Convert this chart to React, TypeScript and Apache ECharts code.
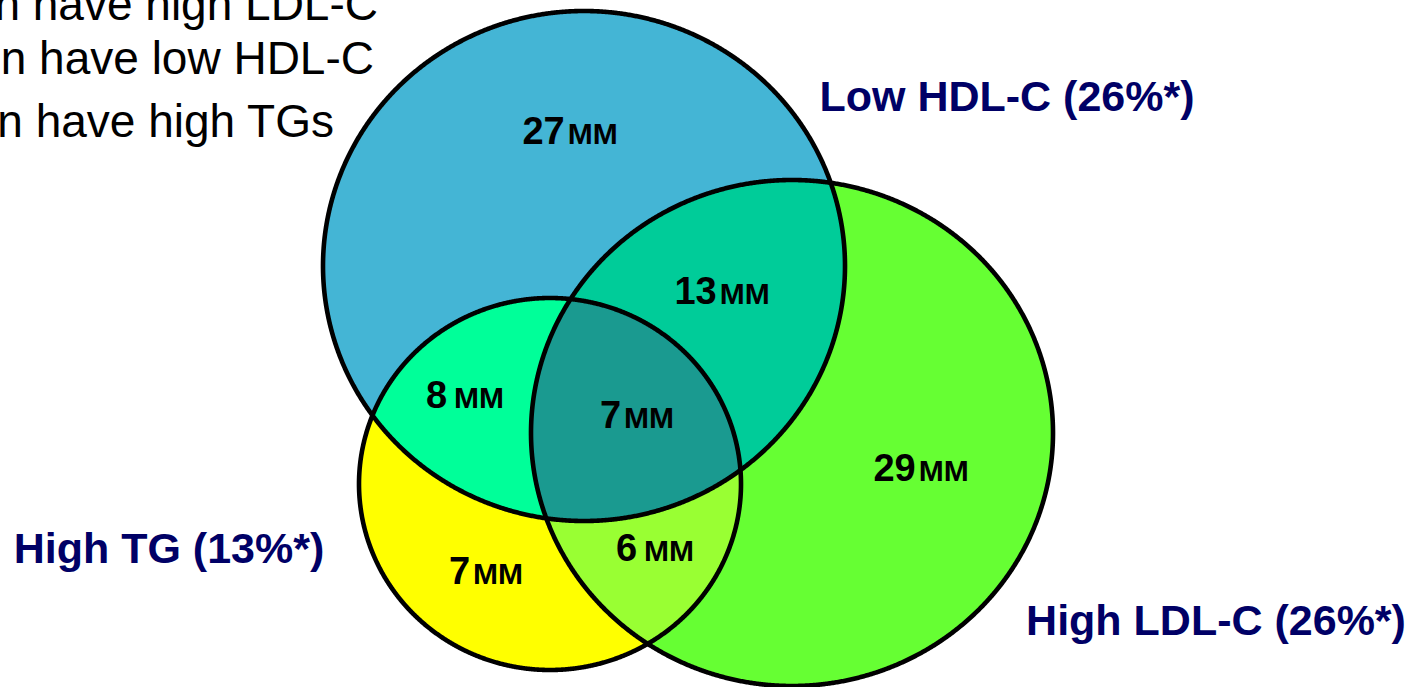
import { useEffect, useRef } from 'react';
import * as echarts from 'echarts';

// Sets shown as overlapping ellipses
const setNames = ['Low HDL-C', 'High LDL-C', 'High TG'];
const setShares = [26, 26, 13];

// Venn regions: which sets each region belongs to, and its count (millions)
const regionMembers = [[0], [1], [2], [0, 1], [0, 2], [1, 2], [0, 1, 2]];
const regionCounts = [27, 29, 7, 13, 8, 6, 7];
const unitLabel = 'MM';

// Side notes (left part runs off the page)
const noteLines = ['n have high LDL-C', 'n have low HDL-C', 'n have high TGs'];

const W = 1420;
const H = 687;

// Layout: ellipse geometry in page pixels
const shapes = [
  { cx: 584, cy: 266, rx: 261, ry: 255 },
  { cx: 792, cy: 433, rx: 261, ry: 253 },
  { cx: 550, cy: 484, rx: 191, ry: 186 },
];
const regionColors = ['#44B5D5', '#66FF33', '#FFFF00', '#00CC99', '#00FF99', '#99FF33', '#1A9A90'];
const regionAnchors = [[570, 130], [921, 467], [486, 570], [722, 290], [465, 394], [655, 547], [637, 414]];
const spacedUnit = [false, false, false, false, true, true, false];
const setLabelAnchors = [[1007, 96], [1216, 620], [169, 548]];
const noteAnchors = [[378, 4], [374, 58], [334, 121]];

const FONT = '"Liberation Sans", Arial, Helvetica, sans-serif';

function inside(e: { cx: number; cy: number; rx: number; ry: number }, p: number[]) {
  const dx = (p[0] - e.cx) / e.rx;
  const dy = (p[1] - e.cy) / e.ry;
  return dx * dx + dy * dy <= 1.0000001;
}

// Convex outline of the intersection of the given ellipses
function regionPolygon(members: number[]) {
  const pts: number[][] = [];
  const N = 1440;
  for (const m of members) {
    const e = shapes[m];
    for (let k = 0; k < N; k++) {
      const t = (2 * Math.PI * k) / N;
      const p = [e.cx + e.rx * Math.cos(t), e.cy + e.ry * Math.sin(t)];
      if (members.every((o) => o === m || inside(shapes[o], p))) pts.push(p);
    }
  }
  const mx = pts.reduce((s, p) => s + p[0], 0) / pts.length;
  const my = pts.reduce((s, p) => s + p[1], 0) / pts.length;
  pts.sort((a, b) => Math.atan2(a[1] - my, a[0] - mx) - Math.atan2(b[1] - my, b[0] - mx));
  return pts;
}

export default function App() {
  const ref = useRef<HTMLDivElement>(null);

  useEffect(() => {
    document.body.style.margin = '0';
    const chart = echarts.init(ref.current!, null, { renderer: 'svg' });

    const option: any = {
      animation: false,
      grid: { left: 0, right: 0, top: 0, bottom: 0 },
      xAxis: { type: 'value', min: 0, max: W, show: false },
      yAxis: { type: 'value', min: 0, max: H, inverse: true, show: false },
      series: [
        {
          type: 'custom',
          name: 'regions',
          coordinateSystem: 'cartesian2d',
          silent: true,
          z: 2,
          data: regionCounts.map((v, i) => [i, v]),
          renderItem: (_params: any, api: any) => {
            const i = api.value(0);
            const pts = regionPolygon(regionMembers[i]).map((p) => api.coord(p));
            return {
              type: 'polygon',
              z2: regionMembers[i].length,
              shape: { points: pts },
              style: { fill: regionColors[i], stroke: null },
            };
          },
        },
        {
          type: 'custom',
          name: 'outlines',
          coordinateSystem: 'cartesian2d',
          silent: true,
          z: 3,
          data: setShares.map((v, i) => [i, v]),
          renderItem: (_params: any, api: any) => {
            const i = api.value(0);
            const pts = regionPolygon([i]).map((p) => api.coord(p));
            const a = api.coord(setLabelAnchors[i]);
            return {
              type: 'group',
              children: [
                {
                  type: 'polygon',
                  shape: { points: pts },
                  style: { fill: 'none', stroke: '#000000', lineWidth: 4.6 },
                },
                {
                  type: 'text',
                  x: a[0],
                  y: a[1],
                  style: {
                    text: `${setNames[i]} (${api.value(1)}%*)`,
                    font: `bold 43px ${FONT}`,
                    fill: '#000066',
                    align: 'center',
                    verticalAlign: 'middle',
                  },
                },
              ],
            };
          },
        },
        {
          type: 'custom',
          name: 'counts',
          coordinateSystem: 'cartesian2d',
          silent: true,
          z: 4,
          data: regionCounts.map((v, i) => [i, v]),
          renderItem: (_params: any, api: any) => {
            const i = api.value(0);
            const a = api.coord(regionAnchors[i]);
            return {
              type: 'text',
              x: a[0],
              y: a[1],
              style: {
                text: `{n|${api.value(1)}}{${spacedUnit[i] ? 'us' : 'u'}|${unitLabel}}`,
                align: 'center',
                verticalAlign: 'middle',
                rich: {
                  n: { font: `bold 38px ${FONT}`, fill: '#000000', verticalAlign: 'bottom', lineHeight: 40 },
                  u: { font: `bold 30px ${FONT}`, fill: '#000000', verticalAlign: 'bottom', lineHeight: 40, padding: [0, 0, 2, 3] },
                  us: { font: `bold 30px ${FONT}`, fill: '#000000', verticalAlign: 'bottom', lineHeight: 40, padding: [0, 0, 2, 7] },
                },
              },
            };
          },
        },
      ],
      graphic: noteLines.map((t, i) => ({
        type: 'text',
        x: noteAnchors[i][0],
        y: noteAnchors[i][1],
        silent: true,
        style: {
          text: t,
          font: `46px ${FONT}`,
          fill: '#000000',
          textAlign: 'right',
          textVerticalAlign: 'middle',
        },
      })),
    };

    chart.setOption(option);
    return () => chart.dispose();
  }, []);

  return <div ref={ref} style={{ width: W, height: H }} />;
}
